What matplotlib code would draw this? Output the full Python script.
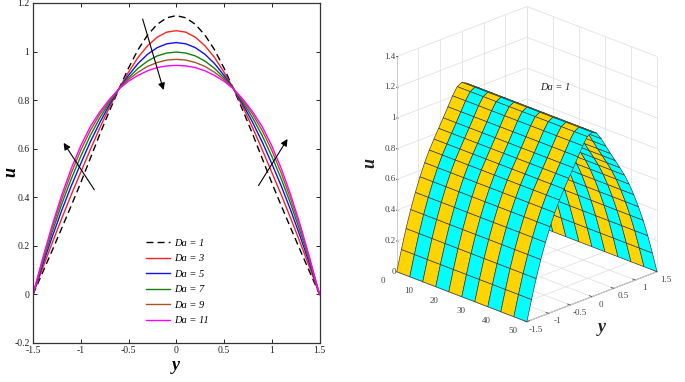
import numpy as np
import matplotlib
matplotlib.use("Agg")
import matplotlib.pyplot as plt
from mpl_toolkits.mplot3d import proj3d

plt.rcParams['font.family'] = ['Liberation Serif', 'DejaVu Serif']

half_y = [0.0, 0.1, 0.2, 0.3, 0.4, 0.5, 0.6, 0.7, 0.8, 0.9, 1.0, 1.1, 1.2, 1.3, 1.4, 1.5]
da1 = [1.148, 1.139, 1.112, 1.068, 1.008, 0.932, 0.846, 0.755, 0.660, 0.560, 0.460, 0.365, 0.272, 0.180, 0.090, 0.0]
da3 = [1.086, 1.080, 1.059, 1.024, 0.976, 0.915, 0.847, 0.770, 0.686, 0.596, 0.503, 0.410, 0.312, 0.211, 0.107, 0.0]
da5 = [1.037, 1.032, 1.016, 0.989, 0.951, 0.902, 0.847, 0.781, 0.708, 0.628, 0.539, 0.446, 0.345, 0.236, 0.121, 0.0]
da7 = [0.998, 0.994, 0.982, 0.961, 0.931, 0.892, 0.847, 0.790, 0.727, 0.654, 0.569, 0.475, 0.371, 0.256, 0.132, 0.0]
da9 = [0.968, 0.965, 0.955, 0.939, 0.915, 0.885, 0.847, 0.797, 0.742, 0.675, 0.594, 0.499, 0.391, 0.272, 0.140, 0.0]
da11 = [0.943, 0.941, 0.934, 0.921, 0.902, 0.878, 0.846, 0.803, 0.752, 0.691, 0.612, 0.518, 0.408, 0.284, 0.147, 0.0]
labels = ['Da = 1', 'Da = 3', 'Da = 5', 'Da = 7', 'Da = 9', 'Da = 11']
colors = ['black', '#ff2020', '#1010f0', '#108010', '#a5532a', '#ff00ff']
styles = ['--', '-', '-', '-', '-', '-']

x_positions = [0, 5, 10, 15, 20, 25, 30, 35, 40, 45, 50]
surface_half_y = [0.0, 0.107, 0.214, 0.321, 0.429, 0.536, 0.643, 0.75, 0.857, 0.964, 1.071, 1.179, 1.286, 1.393, 1.5]
surface_half_u = [1.07, 1.053, 1.005, 0.945, 0.885, 0.828, 0.77, 0.71, 0.64, 0.56, 0.47, 0.37, 0.258, 0.133, 0.0]
xticks3 = [0, 10, 20, 30, 40, 50]
yticks3 = [-1.5, -1, -0.5, 0, 0.5, 1, 1.5]
ylabels3 = ['-1.5', '-1', '-0.5', '0', '0.5', '1', '1.5']


def mirror(values):
    return np.array(values[:0:-1] + values)


def mirror_neg(values):
    return np.concatenate([-np.array(values[:0:-1]), np.array(values)])


y = mirror_neg(half_y)
W, H = 685, 382
fig = plt.figure(figsize=(W / 100, H / 100), dpi=100)


def rect(l, t, r, b):
    return [l / W, 1 - b / H, (r - l) / W, (b - t) / H]


ax = fig.add_axes(rect(33, 3, 319.5, 343))
for vals, lab, c, ls in zip([da1, da3, da5, da7, da9, da11], labels, colors, styles):
    ax.plot(y, mirror(vals), color=c, ls=ls, lw=1.0, label=lab,
            dashes=(5, 3) if ls == '--' else (None, None))
ax.set_xlim(-1.5, 1.5)
ax.set_ylim(-0.2, 1.2)
ax.set_xticks([-1.5, -1, -0.5, 0, 0.5, 1, 1.5])
ax.set_xticklabels(['-1.5', '-1', '-0.5', '0', '0.5', '1', '1.5'])
ax.set_yticks([-0.2, 0, 0.2, 0.4, 0.6, 0.8, 1, 1.2])
ax.set_yticklabels(['-0.2', '0', '0.2', '0.4', '0.6', '0.8', '1', '1.2'])
ax.tick_params(direction='in', top=True, right=True, length=3, width=0.7,
               labelsize=7, pad=2.5, colors='#222222')
for s in ax.spines.values():
    s.set_linewidth(0.9)
    s.set_color('#333333')
ax.set_xlabel('y', fontsize=13, fontweight='bold', style='italic', labelpad=1)
ax.set_ylabel('u', fontsize=13, fontweight='bold', style='italic', va='center')
ax.yaxis.set_label_coords(-0.078, 0.503)
ax.legend(loc='lower left', bbox_to_anchor=(0.394, 0.052), frameon=False,
          prop={'size': 7.5, 'style': 'italic'}, labelspacing=0.6,
          handlelength=2.35, handletextpad=0.35, borderpad=0, borderaxespad=0)
arrows = [((-0.352, 1.134), (-0.133, 0.842)),
          ((-0.858, 0.431), (-1.179, 0.624)),
          ((0.861, 0.448), (1.165, 0.640))]
for a, b in arrows:
    ax.annotate('', xy=b, xytext=a,
                arrowprops=dict(arrowstyle='-|>', color='black', lw=0.8,
                                mutation_scale=10, shrinkA=0, shrinkB=0))

# 3-D surface
ax3 = fig.add_axes(rect(360, 6, 685, 331), projection='3d', proj_type='ortho')
ax3.computed_zorder = False
ax3.view_init(elev=22.6, azim=-45)
ax3.set_box_aspect((184, 184, 233), zoom=1.0435)
sy = mirror_neg(surface_half_y)
su = mirror(surface_half_u)
X, Y = np.meshgrid(x_positions, sy)
Z = np.tile(su[:, None], (1, len(x_positions)))
fc = np.empty(Z.shape + (4,))
for j in range(len(x_positions)):
    fc[:, j] = matplotlib.colors.to_rgba('#ffd400' if j % 2 == 0 else '#00ffff')
mid = len(surface_half_y) - 1
# the far flank is drawn first so that the near flank covers it
for part, order in ((slice(mid, None), 3), (slice(0, mid + 1), 4)):
    ax3.plot_surface(X[part], Y[part], Z[part], facecolors=fc[part], edgecolor='#333333',
                     linewidth=0.45, rstride=1, cstride=1, shade=False,
                     antialiased=True, zorder=order)
ax3.set_xlim(0, 50, view_margin=0)
ax3.set_ylim(-1.5, 1.5, view_margin=0)
ax3.set_zlim(0, 1.4, view_margin=0)
ax3.set_xticks([])
ax3.set_yticks([])
ax3.set_zticks([0, 0.2, 0.4, 0.6, 0.8, 1, 1.2, 1.4])
ax3.set_zticklabels(['0', '0.2', '0.4', '0.6', '0.8', '1', '1.2', '1.4'])
ax3.zaxis._axinfo['juggled'] = (1, 2, 0)
ax3.tick_params(labelsize=6.5, colors='#444444')
ax3.tick_params(axis='z', pad=-7.5)
plt.setp(ax3.get_zticklabels(), va='center', ha='right')
for axis in (ax3.xaxis, ax3.yaxis, ax3.zaxis):
    axis.set_pane_color((1, 1, 1, 0))
    axis.pane.set_edgecolor('#777777')
    axis.pane.set_linewidth(0.7)
    axis.line.set_color('#555555')
    axis.line.set_linewidth(0.7)
    axis._axinfo['grid'].update(color='#e2e2e2', linewidth=0.6)
    axis._axinfo['tick'].update(inward_factor=0.1, outward_factor=0.0)
ax3.patch.set_alpha(0)
grid_kw = dict(color='#e2e2e2', lw=0.6, zorder=1)
tick_kw = dict(color='#555555', lw=0.6, zorder=1)
for tick in xticks3:
    ax3.plot([tick, tick], [-1.5, 1.5], [0, 0], **grid_kw)
    ax3.plot([tick, tick], [1.5, 1.5], [0, 1.4], **grid_kw)
    ax3.plot([tick, tick], [-1.5, -1.44], [0, 0], **tick_kw)
for tick in yticks3:
    ax3.plot([0, 50], [tick, tick], [0, 0], **grid_kw)
    ax3.plot([0, 0], [tick, tick], [0, 1.4], **grid_kw)
    ax3.plot([50, 49], [tick, tick], [0, 0], **tick_kw)

# tick labels of the floor axes: projected from their 3-D anchors to figure text
fig.canvas.draw()


def label3d(px, py, pz, text):
    x2, y2, _ = proj3d.proj_transform(px, py, pz, ax3.get_proj())
    dx, dy = ax3.transData.transform((x2, y2))
    fig.text(dx / W, dy / H, text, fontsize=6.5, color='#444444', ha='center', va='center')


for tick in xticks3:
    label3d(tick, -1.83, -0.023, str(tick))
for tick, lab in zip(yticks3, ylabels3):
    label3d(53.5, tick, -0.03, lab)

fig.text(370 / W, 1 - 163 / H, 'u', fontsize=13, fontweight='bold', style='italic',
         rotation=90, ha='center', va='center', color='#222222')
fig.text(602 / W, 1 - 328 / H, 'y', fontsize=13, fontweight='bold', style='italic',
         ha='center', va='center', color='#222222')
fig.text(555 / W, 1 - 88 / H, 'Da = 1', fontsize=7.5, style='italic',
         ha='center', va='center', color='#222222')
fig.savefig('out.png', dpi=100)
